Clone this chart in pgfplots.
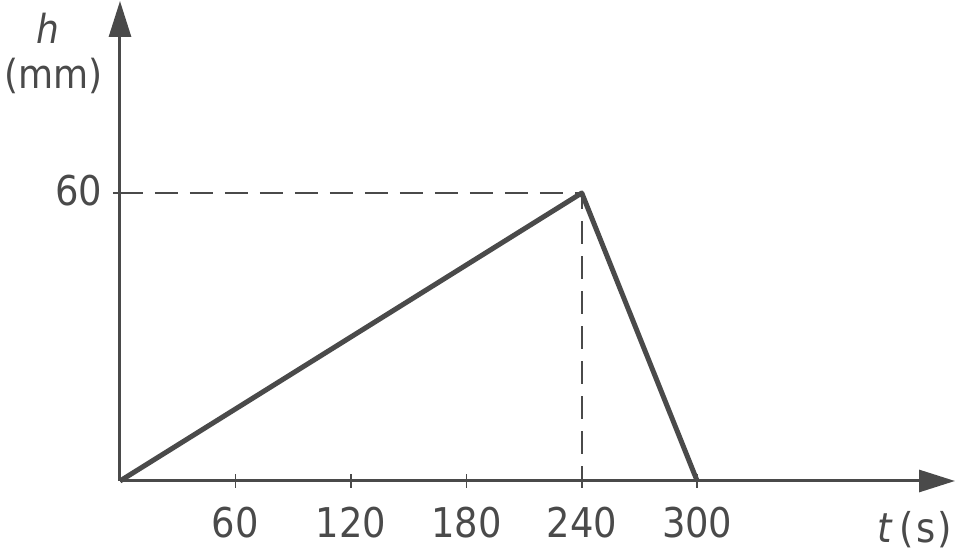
\documentclass[border=0pt]{standalone}
\usepackage{fontspec}
\setmainfont{DejaVu Sans Condensed}
\usepackage{pgfplots}
\pgfplotsset{compat=1.18}
\usetikzlibrary{arrows.meta}
\definecolor{ink}{HTML}{4A4A4A}
\begin{document}
\begin{tikzpicture}
\begin{axis}[
  name=ax,
  scale only axis,
  width=417.5pt, height=240pt,
  xmin=0, xmax=434, ymin=0, ymax=100,
  axis lines=left,
  axis line style={ink, line width=1.5pt, -{Triangle[length=18pt,width=11pt]}},
  xtick={60,120,180,240,300},
  ytick={60},
  tick align=center,
  major tick length=7pt,
  tick style={ink, line width=0.8pt},
  clip=false,
  /pgf/number format/assume math mode=true,
  tick label style={font=\fontsize{20.5}{24}\selectfont, text=ink},
  xticklabel style={yshift=-6pt},
  yticklabel style={xshift=-2pt, yshift=1pt},
]
\addplot[ink, line width=1pt, dash pattern=on 11.5pt off 6pt] coordinates {(0,60) (240,60) (240,0)};
\addplot[ink, line width=2.5pt, line join=round] coordinates {(0,0) (240,60) (300,0)};
\node[text=ink, font=\fontsize{20}{24}\selectfont\itshape, inner sep=1pt] at (axis cs:-37.5,94.3) {h};
\node[text=ink, font=\fontsize{20}{24}\selectfont, inner sep=1pt] at (axis cs:-34.5,84.4) {(mm)};
\node[text=ink, font=\fontsize{20.5}{24}\selectfont, inner sep=1pt] at (axis cs:413,-10.2) {\textit{t}\,(\kern1pt s\kern1pt)};
\end{axis}
\pgfresetboundingbox
\path ([shift={(-60pt,-34.5pt)}]ax.south west) rectangle ([shift={(420pt,240.5pt)}]ax.south west);
\end{tikzpicture}
\end{document}
